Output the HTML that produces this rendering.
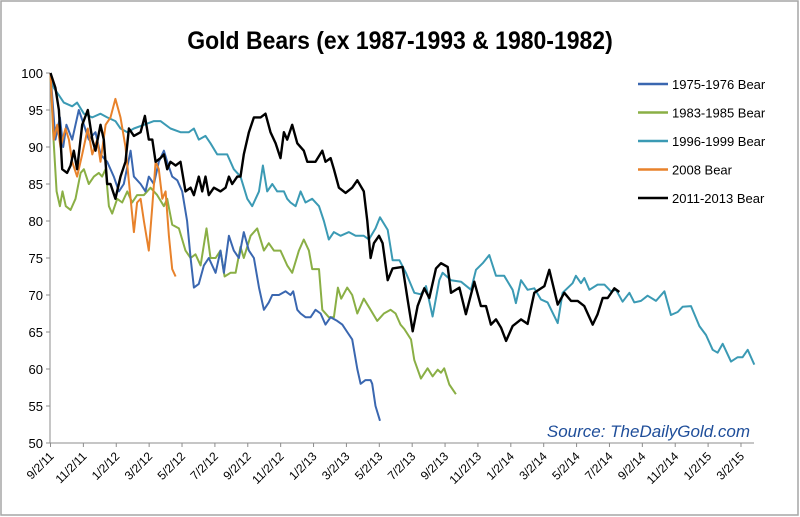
<!DOCTYPE html>
<html><head><meta charset="utf-8"><style>
body{margin:0;background:#fff;}
svg{display:block;font-family:"Liberation Sans",sans-serif;}
</style></head><body>
<svg id="chart" width="800" height="517" viewBox="0 0 800 517">
<rect x="1" y="1" width="797" height="514" fill="#fff" stroke="#a6a6a6" stroke-width="1.5"/>
<text x="400" y="49" text-anchor="middle" font-size="23" font-weight="bold" transform="translate(400,0) scale(1,1.08) translate(-400,-3.6)">Gold Bears (ex 1987-1993 &amp; 1980-1982)</text>
<g id="axes"></g>
<g id="series"></g>
<g id="legend"></g>
<text x="750" y="437" text-anchor="end" font-size="17" font-style="italic" fill="#1f4e9a">Source: TheDailyGold.com</text>
</svg>
<script>
const yTicks=[50,55,60,65,70,75,80,85,90,95,100];
const xTickLabels=["9/2/11","11/2/11","1/2/12","3/2/12","5/2/12","7/2/12","9/2/12","11/2/12","1/2/13","3/2/13","5/2/13","7/2/13","9/2/13","11/2/13","1/2/14","3/2/14","5/2/14","7/2/14","9/2/14","11/2/14","1/2/15","3/2/15"];
const seriesNames=["1975-1976 Bear","1983-1985 Bear","1996-1999 Bear","2008 Bear","2011-2013 Bear"];
const bear7576=[[0,100],[.3,91],[.57,94],[.77,90],[.97,93],[1.32,91],[1.72,95],[2.03,93],[2.33,91],[2.74,92],[3.04,89],[3.45,88],[3.85,86],[4.16,84],[4.46,85],[4.87,89.5],[5.07,86],[5.48,85],[5.78,84],[5.98,86],[6.29,85],[6.59,88],[6.9,89.5],[7.1,88],[7.4,86],[7.71,85.5],[8.01,84],[8.31,80],[8.52,75],[8.72,71],[9.02,71.5],[9.33,74],[9.63,75],[10.04,73],[10.34,76],[10.55,73],[10.85,78],[11.15,76],[11.46,75],[11.76,78.5],[12.07,76],[12.37,75],[12.68,71],[12.98,68],[13.28,69],[13.49,70],[13.89,70],[14.3,70.5],[14.6,70],[14.76,70.5],[15.01,68],[15.21,67.5],[15.51,67],[15.82,67],[16.12,68],[16.43,67.5],[16.73,66],[17.04,67],[17.44,66.5],[17.75,66],[18.05,65],[18.35,64],[18.66,60],[18.86,58],[19.16,58.5],[19.47,58.5],[19.57,58],[19.77,55],[20.04,53]];
const bear8385=[[0,100],[.16,92],[.37,84],[.57,82],[.73,84],[.93,82],[1.22,81.5],[1.52,83],[1.83,86.5],[2.03,87],[2.33,85],[2.64,86],[2.94,86.5],[3.14,86],[3.35,87],[3.55,82],[3.75,81],[4.06,83],[4.36,82.5],[4.67,84],[4.97,82.5],[5.27,83.5],[5.68,83.5],[6.08,84.5],[6.49,83.5],[6.9,82],[7.1,83],[7.4,79.5],[7.81,79],[8.21,76],[8.52,75],[8.82,75.5],[9.13,74],[9.49,79],[9.73,75],[10.04,75],[10.34,76],[10.59,72.5],[10.95,73],[11.26,73],[11.56,76.5],[11.76,75],[12.17,78],[12.57,79],[12.98,76],[13.28,77],[13.59,76],[13.99,76],[14.4,74],[14.7,73],[15.11,76],[15.41,77.5],[15.72,76],[15.92,73.5],[16.33,73.5],[16.53,68],[16.93,67],[17.24,67],[17.48,71],[17.68,69.5],[18.05,71],[18.35,70],[18.66,67.5],[19.06,69.5],[19.47,68],[19.87,66.5],[20.28,67.5],[20.69,68],[20.99,67.5],[21.29,66],[21.52,65.4],[21.93,64],[22.13,61.2],[22.53,58.7],[22.94,60.1],[23.24,59],[23.55,59.9],[23.75,59.5],[23.95,60.1],[24.26,57.9],[24.66,56.6]];
const bear9699=[[0,100],[.2,98],[.51,97],[.81,96],[1.32,95.5],[1.62,96],[2.03,94.5],[2.54,94],[3.04,94.5],[3.45,94],[3.95,93.5],[4.26,92.5],[4.67,92],[5.07,92.5],[5.68,93],[6.29,93.5],[6.69,93.5],[7.3,92.5],[7.91,92],[8.42,92],[8.72,92.5],[9.02,91],[9.43,91.5],[9.73,90.5],[10.14,89],[10.75,89],[11.15,87],[11.56,86],[11.97,83],[12.27,82],[12.68,84],[12.92,87.5],[13.18,84],[13.49,85],[13.79,84],[14.2,84],[14.4,83],[14.6,82.5],[14.91,82],[15.21,84],[15.51,82.5],[15.92,83],[16.33,82],[16.63,80],[16.93,77.5],[17.24,78.5],[17.64,78],[18.15,78.5],[18.56,78],[19.06,78],[19.37,77.5],[19.77,79],[20.04,80.5],[20.51,78.8],[20.81,74.7],[21.22,74.7],[21.62,73],[22.13,70.3],[22.53,70.1],[22.84,71.2],[23.24,67.1],[23.65,72],[23.85,73],[24.36,72],[24.97,71.8],[25.58,70.7],[25.88,73.4],[26.29,74.3],[26.69,75.4],[27.1,72.6],[27.6,72.6],[28.11,70.7],[28.31,68.9],[28.62,72],[29.02,70.7],[29.43,70.9],[29.83,69.4],[30.24,69],[30.85,66.2],[31.15,70.3],[31.76,71.6],[31.96,72.6],[32.27,71.6],[32.47,72.3],[32.78,70.7],[33.28,71.4],[33.69,71.4],[34.09,70.5],[34.4,70.7],[34.8,69.1],[35.21,70.3],[35.51,69],[35.92,69.2],[36.32,69.9],[36.83,69.2],[37.34,70.5],[37.74,67.3],[38.15,67.7],[38.45,68.4],[38.96,68.5],[39.47,65.8],[39.87,64.6],[40.28,62.6],[40.58,62.2],[40.89,63.4],[41.39,61],[41.8,61.6],[42.1,61.6],[42.41,62.6],[42.81,60.6]];
const bear2008=[[0,100],[.2,91],[.41,93],[.61,90],[.91,92.5],[1.12,91],[1.32,88],[1.62,86],[1.93,89],[2.27,92.5],[2.54,89],[2.84,91],[3.04,88],[3.35,93],[3.65,94],[3.95,96.5],[4.26,94],[4.56,90],[4.87,83],[5.07,78.5],[5.27,82.5],[5.48,83],[5.68,80],[5.98,76],[6.19,82],[6.39,88],[6.59,87],[6.8,83],[7,84],[7.2,78],[7.4,73.5],[7.61,72.5]];
const bear1113=[[0,100],[.3,98],[.51,95],[.71,87],[1.01,86.5],[1.22,87.5],[1.42,89.5],[1.62,87],[1.93,93],[2.27,95],[2.54,91],[2.74,89.5],[3.04,93],[3.24,91],[3.45,85],[3.65,85],[3.95,83],[4.26,86],[4.56,88],[4.77,92.5],[5.07,91.5],[5.48,92],[5.74,94.2],[5.98,91],[6.19,91],[6.39,88],[6.69,88.5],[6.9,89],[7.1,87],[7.3,88],[7.61,87.5],[7.91,88],[8.21,84],[8.52,84.5],[8.72,83.5],[9.02,86],[9.23,84],[9.43,86],[9.63,83.5],[9.94,84.5],[10.34,84],[10.65,84.5],[10.85,86],[11.05,85],[11.36,86],[11.56,86],[11.76,89],[12.07,92],[12.37,94],[12.78,94],[13.08,94.5],[13.38,92],[13.69,90.5],[13.99,88.5],[14.2,92],[14.4,91],[14.7,93],[15.01,90.5],[15.41,89.5],[15.62,88],[16.12,88],[16.53,89.5],[16.73,88],[17.04,88.5],[17.24,87],[17.54,84.5],[17.95,83.8],[18.35,84.5],[18.66,85.5],[19.06,84],[19.27,80],[19.47,75],[19.67,77],[19.98,78],[20.2,77],[20.51,72],[20.81,73.6],[21.42,73.8],[21.72,69.4],[22.03,65.1],[22.33,68.5],[22.74,70.9],[23.04,69.6],[23.45,73.6],[23.75,74.3],[24.16,73.8],[24.36,70.3],[24.87,71],[25.27,67.4],[25.78,71.8],[26.18,68.5],[26.49,68.5],[26.79,66],[27.1,66.7],[27.4,65.6],[27.71,63.8],[28.11,65.8],[28.62,66.7],[29.02,66.1],[29.43,70.3],[30.04,71.2],[30.34,73.4],[30.85,68.7],[31.25,70.3],[31.66,69.2],[32.07,69.2],[32.47,68.5],[32.98,66],[33.28,67.4],[33.59,69.6],[33.89,69.6],[34.3,70.9],[34.6,70.4]];
const NS="http://www.w3.org/2000/svg";
const L=50,R=754,T=73,B=443;
const monthsPerTick=2,pxPerMonth=16.44;
function xs(m){return L+0.5+m*pxPerMonth;}
function ys(v){return B-(v-50)/50*(B-T);}
function mk(tag,attrs,parent){const e=document.createElementNS(NS,tag);for(const k in attrs)e.setAttribute(k,attrs[k]);parent.appendChild(e);return e;}
const axes=document.getElementById('axes');
let yl=mk('line',{x1:L,y1:T,x2:L,y2:B,stroke:'#8c8c8c','stroke-width':1},axes);


let xl=mk('line',{x1:L,y1:B,x2:R,y2:B,stroke:'#8c8c8c','stroke-width':1},axes);


yTicks.forEach(v=>{
  const y=ys(v);
  const t=mk('line',{x1:L-4,y1:y,x2:L,y2:y,stroke:'#8c8c8c'},axes);
  
  
  const tx=mk('text',{x:L-7,y:y+5,'text-anchor':'end','font-size':13},axes);
  tx.textContent=v;
  
  
});
xTickLabels.forEach((lab,i)=>{
  const x=xs(i*monthsPerTick);
  const t=mk('line',{x1:x,y1:B,x2:x,y2:B+4,stroke:'#8c8c8c'},axes);
  
  
  const tx=mk('text',{x:x+4,y:B+14,'text-anchor':'end','font-size':12,transform:`rotate(-45 ${x+4} ${B+14})`},axes);
  tx.textContent=lab;
  
  
});
const allSeries=[bear7576,bear8385,bear9699,bear2008,bear1113];
const colors=["#3a67b0","#8aaf45","#3b9ab4","#e8822b","#000000"];
const widths=[2,2,2,2,2.4];
const sg=document.getElementById('series');
[2,1,0,3,4].forEach(i=>{
  const d=allSeries[i].map((p,j)=>(j?'L':'M')+xs(p[0]).toFixed(1)+','+ys(p[1]).toFixed(1)).join('');
  const pth=mk('path',{d:d,fill:'none',stroke:colors[i],'stroke-width':widths[i],'stroke-linejoin':'round'},sg);
  
  
});
const lg=document.getElementById('legend');
seriesNames.forEach((n,i)=>{
  const y=84+i*28.5;
  const ln=mk('line',{x1:638,y1:y,x2:668,y2:y,stroke:colors[i],'stroke-width':2.5},lg);
  
  
  const tx=mk('text',{x:672,y:y+5,'font-size':13},lg);
  tx.textContent=n;
  
  
});
</script>
</body></html>
